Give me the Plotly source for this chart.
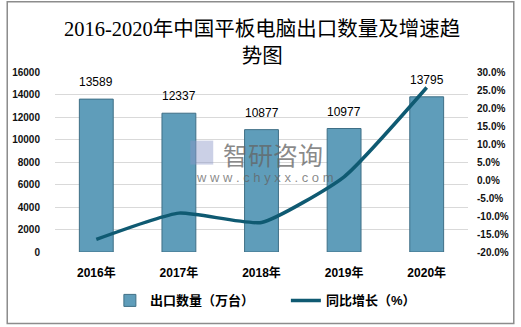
import plotly.graph_objects as go

# 出口数量（万台）与同比增长（%）
years = ["2016年", "2017年", "2018年", "2019年", "2020年"]
export_qty = [13589, 12337, 10877, 10977, 13795]
yoy_growth = [-16.5, -9.2, -11.8, 0.9, 25.7]

left_ticks = list(range(0, 16001, 2000))
right_ticks = list(range(-20, 31, 5))

bar_color = "#5f9dba"
bar_edge = "#3f6f86"
line_color = "#0f5a72"
tick_font = dict(family="Liberation Sans, Arial, Noto Sans CJK SC", size=10, color="#111111", weight="bold")

# plot-area geometry in pixels (used for paper-coordinate decorations)
PL, PR, PT, PB = 55, 470, 72.3, 252.5
def px(x):
    return (x - PL) / (PR - PL)
def py(y):
    return (PB - y) / (PB - PT)

fig = go.Figure()

fig.add_trace(go.Bar(
    x=years, y=export_qty, name="出口数量（万台）",
    marker=dict(color=bar_color, line=dict(color=bar_edge, width=1)),
    yaxis="y",
))

fig.add_trace(go.Scatter(
    x=years, y=yoy_growth, name="同比增长（%）",
    mode="lines", line=dict(color=line_color, width=3.5, shape="spline", smoothing=0.5),
    yaxis="y2",
))

# value labels above bars
for yr, v in zip(years, export_qty):
    fig.add_annotation(
        x=yr, y=v, xref="x", yref="y", text=str(v), showarrow=False,
        yanchor="bottom", yshift=8,
        font=dict(family="Liberation Sans, Arial", size=12, color="#000000"),
    )

# title
fig.add_annotation(
    x=0.5, y=py(16), xref="paper", yref="paper", xanchor="center", yanchor="top",
    text="2016-2020年中国平板电脑出口数量及增速趋<br>势图", showarrow=False,
    font=dict(family="Liberation Serif, Noto Sans CJK SC", size=20.5, color="#000000"),
)

# watermark
fig.add_annotation(
    x=px(274), y=py(154), xref="paper", yref="paper", text="智研咨询", showarrow=False,
    font=dict(family="Noto Sans CJK SC", size=25, color="rgba(100,100,100,0.75)"),
)
fig.add_annotation(
    x=px(266), y=py(178), xref="paper", yref="paper",
    text="w w w . c h y x x . c o m", showarrow=False,
    font=dict(family="Liberation Sans, Arial", size=13, color="rgba(100,100,100,0.75)"),
)
fig.add_shape(
    type="rect", xref="paper", yref="paper",
    x0=px(191), x1=px(214), y0=py(165), y1=py(141),
    fillcolor="rgba(140,150,200,0.45)", line=dict(width=0), layer="above",
)

# outer frame
fig.add_shape(
    type="rect", xref="paper", yref="paper",
    x0=px(7), x1=px(516), y0=py(324), y1=py(2),
    line=dict(color="#8c8c8c", width=1.5), fillcolor="rgba(0,0,0,0)", layer="below",
)

fig.update_layout(
    width=521, height=327,
    margin=dict(l=PL, r=521 - PR, t=PT, b=327 - PB),
    paper_bgcolor="white", plot_bgcolor="white",
    bargap=0.59,
    showlegend=True,
    legend=dict(
        orientation="h", x=px(287), xanchor="center", y=py(301), yanchor="middle",
        font=dict(family="Liberation Sans, Noto Sans CJK SC", size=13, color="#000000", weight="bold"),
        entrywidth=131, entrywidthmode="pixels", tracegroupgap=0,
    ),
    xaxis=dict(
        showline=False, showgrid=False, ticks="",
        tickfont=dict(family="Liberation Sans, Arial, Noto Sans CJK SC", size=12, color="#000000", weight="bold"),
        ticklabelstandoff=12,
    ),
    yaxis=dict(
        range=[0, 16000], tickvals=left_ticks, ticktext=[str(t) for t in left_ticks],
        showgrid=True, gridcolor="#d9d9d9", gridwidth=1, zeroline=False, showline=False,
        tickfont=tick_font, ticklabelstandoff=14,
    ),
    yaxis2=dict(
        range=[-20, 30], tickvals=right_ticks, ticktext=[f"{t:.1f}%" for t in right_ticks],
        overlaying="y", side="right", showgrid=False, zeroline=False, showline=False,
        tickfont=tick_font, ticklabelstandoff=8,
    ),
)

fig.write_html("out.html")
